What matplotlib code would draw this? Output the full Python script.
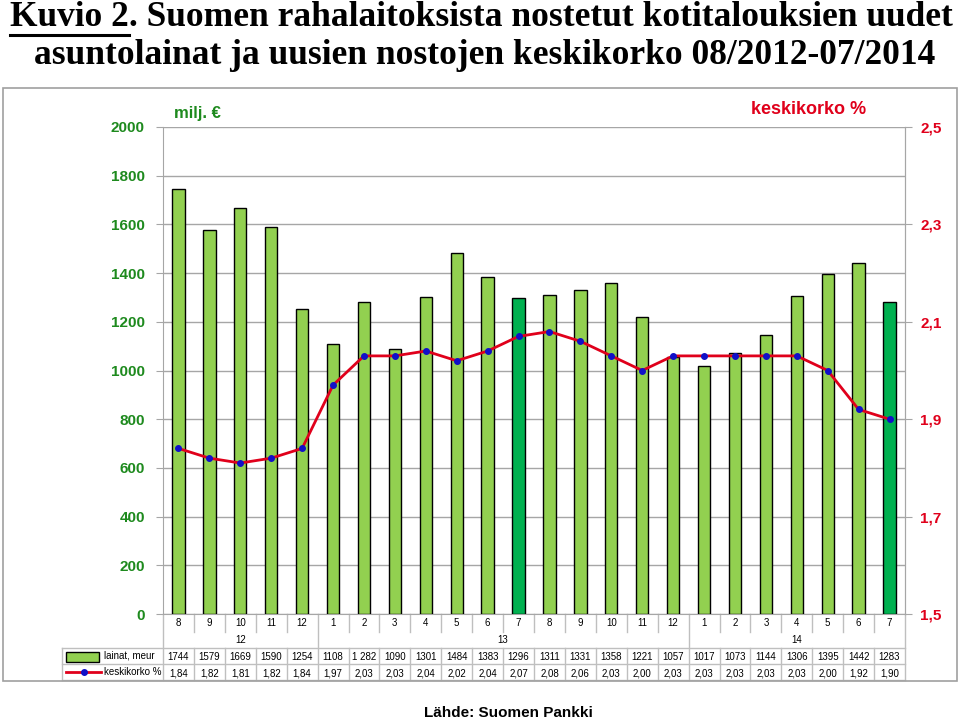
import matplotlib.pyplot as plt
import matplotlib.patches as mpatches
from matplotlib.lines import Line2D
import numpy as np

months = [8, 9, 10, 11, 12, 1, 2, 3, 4, 5, 6, 7, 8, 9, 10, 11, 12, 1, 2, 3, 4, 5, 6, 7]
years = ["12", "13", "14"]
year_spans = [(0, 4), (5, 16), (17, 23)]
lainat = [1744, 1579, 1669, 1590, 1254, 1108, 1282, 1090, 1301, 1484, 1383, 1296,
          1311, 1331, 1358, 1221, 1057, 1017, 1073, 1144, 1306, 1395, 1442, 1283]
lainat_txt = [str(v) for v in lainat]
lainat_txt[6] = "1 282"
korko = [1.84, 1.82, 1.81, 1.82, 1.84, 1.97, 2.03, 2.03, 2.04, 2.02, 2.04, 2.07,
         2.08, 2.06, 2.03, 2.00, 2.03, 2.03, 2.03, 2.03, 2.03, 2.00, 1.92, 1.90]
highlight = [11, 23]

LIGHT = "#92D050"
DARK = "#00B050"
GREEN_TXT = "#1E8A1E"
RED = "#E0001B"
GRID = "#A6A6A6"
TBL = "#BFBFBF"

plt.rcParams["font.family"] = ["Liberation Sans", "DejaVu Sans"]

fig = plt.figure(figsize=(9.6, 7.22), dpi=100)
ax = fig.add_axes([163 / 960, 1 - 614 / 722, 742 / 960, 487 / 722])

x = np.arange(len(lainat))
colors = [DARK if i in highlight else LIGHT for i in x]
ax.bar(x, lainat, width=0.4, color=colors, edgecolor="black", linewidth=1.0, zorder=3)
ax.set_xlim(-0.5, len(lainat) - 0.5)
ax.set_ylim(0, 2000)
ax.set_yticks(range(0, 2001, 200))
ax.tick_params(axis="y", colors=GRID, labelcolor=GREEN_TXT, labelsize=11, length=5, pad=8)
for t in ax.get_yticklabels():
    t.set_fontweight("bold")
ax.set_xticks([])
ax.yaxis.grid(True, color=GRID, linewidth=1.0, zorder=0)
ax.spines["top"].set_visible(False)
for s in ["left", "right", "bottom"]:
    ax.spines[s].set_color(GRID)

ax2 = ax.twinx()
ax2.plot(x, korko, color=RED, linewidth=2.0, marker="o", markersize=4,
         markerfacecolor="#1010C8", markeredgecolor="#1010C8", zorder=4)
ax2.set_ylim(1.5, 2.5)
rt = [1.5, 1.7, 1.9, 2.1, 2.3, 2.5]
ax2.set_yticks(rt)
ax2.set_yticklabels([f"{v:.1f}".replace(".", ",") for v in rt])
ax2.tick_params(axis="y", colors=GRID, labelcolor=RED, labelsize=11, length=5, pad=6)
for t in ax2.get_yticklabels():
    t.set_fontweight("bold")
for s in ["top", "left", "bottom"]:
    ax2.spines[s].set_visible(False)
ax2.spines["right"].set_color(GRID)

ax.text(0.015, 1.028, "milj. €", transform=ax.transAxes, color=GREEN_TXT,
        fontsize=12, fontweight="bold", va="center")
ax.text(0.948, 1.035, "keskikorko %", transform=ax.transAxes, color=RED,
        fontsize=13, fontweight="bold", va="center", ha="right")

# data table under the chart
def fy(py):
    return (614 - py) / 487

xt = ax.get_xaxis_transform()
fs = 7
for i, m in enumerate(months):
    ax.text(i, fy(623), str(m), transform=xt, ha="center", va="center", fontsize=fs)
    ax.text(i, fy(657), lainat_txt[i], transform=xt, ha="center", va="center", fontsize=fs)
    ax.text(i, fy(673), f"{korko[i]:.2f}".replace(".", ","), transform=xt,
            ha="center", va="center", fontsize=fs)
for y, (a, b) in zip(years, year_spans):
    ax.text((a + b) / 2, fy(640), y, transform=xt, ha="center", va="center", fontsize=fs)

def tline(xs, ys, tr):
    ax.add_line(Line2D(xs, ys, transform=tr, color=TBL, linewidth=1.0, clip_on=False))

leg_x = (62 - 163) / 742
at = ax.transAxes
for py in [648, 664, 680]:
    tline([leg_x, 1.0], [fy(py), fy(py)], at)
tline([leg_x, leg_x], [fy(648), fy(680)], at)
for b in np.arange(-0.5, len(months), 1.0):
    if b in (-0.5, len(months) - 0.5, 4.5, 16.5):
        tline([b, b], [0, fy(680)], xt)
    else:
        tline([b, b], [0, fy(632)], xt)
        tline([b, b], [fy(648), fy(680)], xt)

ax.add_patch(mpatches.Rectangle((leg_x + 0.006, fy(662)), 0.044, fy(652) - fy(662),
                                transform=at, facecolor=LIGHT, edgecolor="black",
                                linewidth=1.0, clip_on=False))
ax.text(leg_x + 0.056, fy(656), "lainat, meur", transform=at, va="center", fontsize=fs)
ax.add_line(Line2D([leg_x + 0.006, leg_x + 0.052], [fy(672), fy(672)], transform=at,
                   color=RED, linewidth=2.0, clip_on=False))
ax.add_line(Line2D([leg_x + 0.029], [fy(672)], transform=at, marker="o", markersize=4,
                   color="#1010C8", clip_on=False))
ax.text(leg_x + 0.056, fy(672), "keskikorko %", transform=at, va="center", fontsize=fs)

# outer frame
fig.patches.append(mpatches.Rectangle((3 / 960, 1 - 681 / 722), 954 / 960, 593 / 722,
                                      transform=fig.transFigure, fill=False,
                                      edgecolor="#A0A0A0", linewidth=1.2))

serif = ["Liberation Serif", "DejaVu Serif"]
tfs = 25.5
t1 = fig.text(10 / 960, 1 - 18 / 722, "Kuvio 2", fontsize=tfs, fontweight="bold",
              family=serif, va="center", ha="left")
fig.canvas.draw()
bb = t1.get_window_extent()
fig.text(bb.x1 / 960, 1 - 18 / 722, ". Suomen rahalaitoksista nostetut kotitalouksien uudet",
         fontsize=tfs, fontweight="bold", family=serif, va="center", ha="left")
fig.add_artist(Line2D([bb.x0 / 960, bb.x1 / 960], [1 - 35 / 722, 1 - 35 / 722],
                      transform=fig.transFigure, color="black", linewidth=2.2))
fig.text(485 / 960, 1 - 56 / 722, "asuntolainat ja uusien nostojen keskikorko 08/2012-07/2014",
         fontsize=tfs, fontweight="bold", family=serif, va="center", ha="center")

fig.text(508 / 960, 1 - 713 / 722, "Lähde: Suomen Pankki", fontsize=11, fontweight="bold",
         family=["Liberation Sans Narrow", "Liberation Sans", "DejaVu Sans"],
         va="center", ha="center")

fig.savefig("out.png", dpi=100)
